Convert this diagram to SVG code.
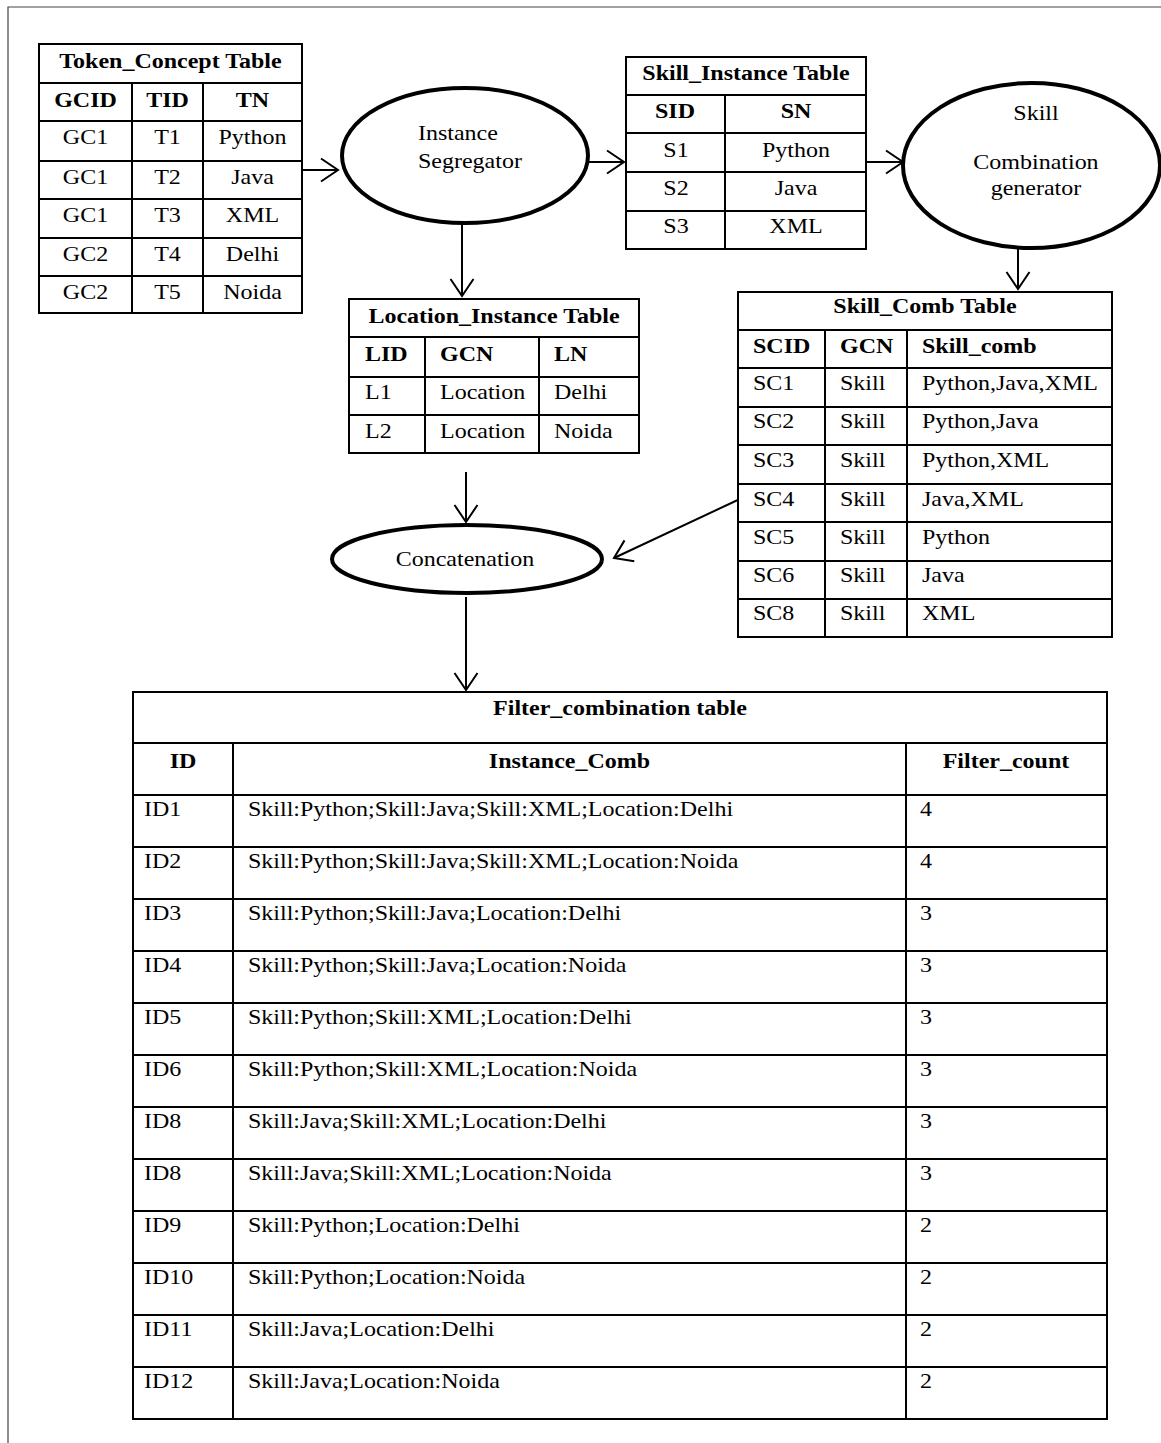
<svg xmlns="http://www.w3.org/2000/svg" width="1161" height="1443" viewBox="0 0 1161 1443">
<defs>
<style>
.bg{fill:#fff}
.frame{stroke:#444;stroke-width:1.2;fill:none}
.cell{fill:none;stroke:#000;stroke-width:2}
.box{fill:#fff;stroke:#000;stroke-width:2}
.ell{fill:#fff;stroke:#000;stroke-width:4}
.t{font-family:"Liberation Serif","Times New Roman",serif;font-size:20px;fill:#000}
.b{font-weight:bold}
.c{text-anchor:middle}
.conn{stroke:#000;stroke-width:2;fill:none;marker-end:url(#arr)}
</style>
<marker id="arr" markerUnits="userSpaceOnUse" markerWidth="26" markerHeight="28" viewBox="-22 -14 26 28" refX="0" refY="0" orient="auto">
<path d="M-17,-11.5 L0,0 L-17,11.5" fill="none" stroke="#000" stroke-width="2"/>
</marker>
</defs>
<rect class="bg" x="0" y="0" width="1161" height="1443"/>
<path class="frame" d="M8,1443 V7 H1161"/>

<g id="connectors">
<line class="conn" x1="299" y1="170" x2="338" y2="170"/>
<line class="conn" x1="588" y1="162" x2="624" y2="162"/>
<line class="conn" x1="462" y1="223" x2="462" y2="296"/>
<line class="conn" x1="866" y1="162" x2="903" y2="162"/>
<line class="conn" x1="1018" y1="248" x2="1018" y2="289"/>
<line class="conn" x1="466" y1="472" x2="466" y2="522"/>
<line class="conn" x1="742" y1="498" x2="614" y2="558"/>
<line class="conn" x1="466" y1="597" x2="466" y2="690"/>
</g>

<g id="token_concept_table">
<rect class="box" x="39" y="44" width="263" height="269"/>
<path class="cell" d="M39,83 H302 M39,121 H302 M39,161 H302 M39,199 H302 M39,238 H302 M39,276 H302 M132,83 V313 M203,83 V313"/>
<g class="t c" transform="scale(1.2,1)">
<text class="b" x="142.08" y="68">Token_Concept Table</text>
<text class="b" x="71.25" y="107">GCID</text><text class="b" x="139.58" y="107">TID</text><text class="b" x="210.42" y="107">TN</text>
<text x="71.25" y="144">GC1</text><text x="139.58" y="144">T1</text><text x="210.42" y="144">Python</text>
<text x="71.25" y="184">GC1</text><text x="139.58" y="184">T2</text><text x="210.42" y="184">Java</text>
<text x="71.25" y="222">GC1</text><text x="139.58" y="222">T3</text><text x="210.42" y="222">XML</text>
<text x="71.25" y="261">GC2</text><text x="139.58" y="261">T4</text><text x="210.42" y="261">Delhi</text>
<text x="71.25" y="299">GC2</text><text x="139.58" y="299">T5</text><text x="210.42" y="299">Noida</text>
</g>
</g>

<g id="instance_segregator">
<ellipse class="ell" cx="465" cy="155.5" rx="123" ry="67.5"/>
<g class="t" transform="scale(1.2,1)">
<text x="348.33" y="140">Instance</text>
<text x="348.33" y="168">Segregator</text>
</g>
</g>

<g id="skill_instance_table">
<rect class="box" x="626" y="57" width="240" height="192"/>
<path class="cell" d="M626,95 H866 M626,133 H866 M626,172 H866 M626,211 H866 M725,95 V249"/>
<g class="t c" transform="scale(1.2,1)">
<text class="b" x="621.67" y="80">Skill_Instance Table</text>
<text class="b" x="562.5" y="118">SID</text><text class="b" x="663.33" y="118">SN</text>
<text x="563.33" y="157">S1</text><text x="663.33" y="157">Python</text>
<text x="563.33" y="195">S2</text><text x="663.33" y="195">Java</text>
<text x="563.33" y="233">S3</text><text x="663.33" y="233">XML</text>
</g>
</g>

<g id="skill_combination_generator">
<ellipse class="ell" cx="1031.5" cy="165.5" rx="128.5" ry="82.5"/>
<g class="t c" transform="scale(1.2,1)">
<text x="863.33" y="120">Skill</text>
<text x="863.33" y="169">Combination</text>
<text x="863.33" y="195">generator</text>
</g>
</g>

<g id="location_instance_table">
<rect class="box" x="349" y="299" width="290" height="154"/>
<path class="cell" d="M349,337 H639 M349,377 H639 M349,415 H639 M425,337 V453 M539,337 V453"/>
<g class="t" transform="scale(1.2,1)">
<text class="b c" x="411.67" y="323">Location_Instance Table</text>
<text class="b" x="304.17" y="361">LID</text><text class="b" x="366.67" y="361">GCN</text><text class="b" x="461.67" y="361">LN</text>
<text x="304.17" y="399">L1</text><text x="366.67" y="399">Location</text><text x="461.67" y="399">Delhi</text>
<text x="304.17" y="438">L2</text><text x="366.67" y="438">Location</text><text x="461.67" y="438">Noida</text>
</g>
</g>

<g id="skill_comb_table">
<rect class="box" x="738" y="292" width="374" height="345"/>
<path class="cell" d="M738,330 H1112 M738,368 H1112 M738,407 H1112 M738,445 H1112 M738,484 H1112 M738,522 H1112 M738,561 H1112 M738,599 H1112 M825,330 V637 M907,330 V637"/>
<g class="t" transform="scale(1.2,1)">
<text class="b c" x="770.83" y="313">Skill_Comb Table</text>
<text class="b" x="627.5" y="353">SCID</text><text class="b" x="700" y="353">GCN</text><text class="b" x="768.33" y="353">Skill_comb</text>
<text x="627.5" y="390">SC1</text><text x="700" y="390">Skill</text><text x="768.33" y="390">Python,Java,XML</text>
<text x="627.5" y="428">SC2</text><text x="700" y="428">Skill</text><text x="768.33" y="428">Python,Java</text>
<text x="627.5" y="467">SC3</text><text x="700" y="467">Skill</text><text x="768.33" y="467">Python,XML</text>
<text x="627.5" y="506">SC4</text><text x="700" y="506">Skill</text><text x="768.33" y="506">Java,XML</text>
<text x="627.5" y="544">SC5</text><text x="700" y="544">Skill</text><text x="768.33" y="544">Python</text>
<text x="627.5" y="582">SC6</text><text x="700" y="582">Skill</text><text x="768.33" y="582">Java</text>
<text x="627.5" y="620">SC8</text><text x="700" y="620">Skill</text><text x="768.33" y="620">XML</text>
</g>
</g>

<g id="concatenation">
<ellipse class="ell" cx="467" cy="559" rx="135" ry="34"/>
<g class="t c" transform="scale(1.2,1)">
<text x="387.5" y="566">Concatenation</text>
</g>
</g>

<g id="filter_combination_table">
<rect class="box" x="133" y="692" width="974" height="727"/>
<path class="cell" d="M133,743 H1107 M133,795 H1107 M133,847 H1107 M133,899 H1107 M133,951 H1107 M133,1003 H1107 M133,1055 H1107 M133,1107 H1107 M133,1159 H1107 M133,1211 H1107 M133,1263 H1107 M133,1315 H1107 M133,1367 H1107 M233,743 V1419 M906,743 V1419"/>
<g class="t" transform="scale(1.2,1)">
<text class="b c" x="516.67" y="715">Filter_combination table</text>
<text class="b c" x="152.5" y="768">ID</text><text class="b c" x="474.58" y="768">Instance_Comb</text><text class="b c" x="838.33" y="768">Filter_count</text>
<text x="120" y="816">ID1</text><text x="206.67" y="816">Skill:Python;Skill:Java;Skill:XML;Location:Delhi</text><text x="766.67" y="816">4</text>
<text x="120" y="868">ID2</text><text x="206.67" y="868">Skill:Python;Skill:Java;Skill:XML;Location:Noida</text><text x="766.67" y="868">4</text>
<text x="120" y="920">ID3</text><text x="206.67" y="920">Skill:Python;Skill:Java;Location:Delhi</text><text x="766.67" y="920">3</text>
<text x="120" y="972">ID4</text><text x="206.67" y="972">Skill:Python;Skill:Java;Location:Noida</text><text x="766.67" y="972">3</text>
<text x="120" y="1024">ID5</text><text x="206.67" y="1024">Skill:Python;Skill:XML;Location:Delhi</text><text x="766.67" y="1024">3</text>
<text x="120" y="1076">ID6</text><text x="206.67" y="1076">Skill:Python;Skill:XML;Location:Noida</text><text x="766.67" y="1076">3</text>
<text x="120" y="1128">ID8</text><text x="206.67" y="1128">Skill:Java;Skill:XML;Location:Delhi</text><text x="766.67" y="1128">3</text>
<text x="120" y="1180">ID8</text><text x="206.67" y="1180">Skill:Java;Skill:XML;Location:Noida</text><text x="766.67" y="1180">3</text>
<text x="120" y="1232">ID9</text><text x="206.67" y="1232">Skill:Python;Location:Delhi</text><text x="766.67" y="1232">2</text>
<text x="120" y="1284">ID10</text><text x="206.67" y="1284">Skill:Python;Location:Noida</text><text x="766.67" y="1284">2</text>
<text x="120" y="1336">ID11</text><text x="206.67" y="1336">Skill:Java;Location:Delhi</text><text x="766.67" y="1336">2</text>
<text x="120" y="1388">ID12</text><text x="206.67" y="1388">Skill:Java;Location:Noida</text><text x="766.67" y="1388">2</text>
</g>
</g>
</svg>
